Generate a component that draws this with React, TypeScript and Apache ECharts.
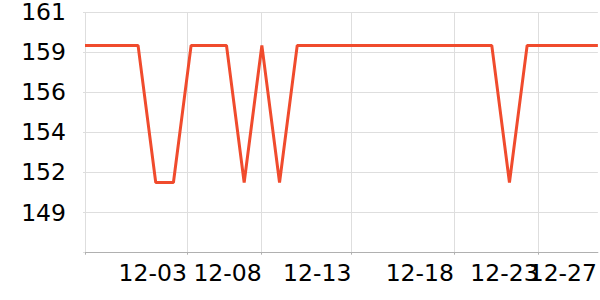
import React, { useEffect, useRef } from "react";
import * as echarts from "echarts";

// x positions are day indices of the series (0..29)
const dayIndex: number[] = Array.from({ length: 30 }, (_, i) => i);
const values: number[] = [
  159.2, 159.2, 159.2, 159.2, 151.0, 151.0, 159.2, 159.2, 159.2, 151.0,
  159.2, 151.0, 159.2, 159.2, 159.2, 159.2, 159.2, 159.2, 159.2, 159.2,
  159.2, 159.2, 159.2, 159.2, 151.0, 159.2, 159.2, 159.2, 159.2, 159.2,
];
const xTickValues: number[] = [0, 5.76, 9.99, 15.06, 20.86, 25.65];
const xLabelValues: number[] = [5.76, 9.99, 15.06, 20.86, 25.65];
const xLabelTexts: string[] = ["12-03", "12-08", "12-13", "12-18", "12-23"];
const xLastLabelValues: number[] = [28.95];
const xLastLabelTexts: string[] = ["12-27"];
const yTickValues: number[] = [146.8, 149.2, 151.6, 154.0, 156.4, 158.8, 161.2];
const yLabelValues: number[] = [149.2, 151.6, 154.0, 156.4, 158.8, 161.2];

const labelStyle = {
  fontSize: 23.5,
  fontFamily: "DejaVu Sans",
  color: "#000",
};

export default function App() {
  const ref = useRef<HTMLDivElement>(null);
  useEffect(() => {
    document.body.style.margin = "0";
    const chart = echarts.init(ref.current!, undefined, { renderer: "svg" });
    const pick = (vals: number[], texts: string[]) => (v: number) => {
      const i = vals.findIndex((x) => Math.abs(x - v) < 1e-6);
      return i >= 0 ? texts[i] : "";
    };
    chart.setOption({
      animation: false,
      grid: { left: 85, right: 0, top: 10.3, bottom: 47.3, containLabel: false },
      xAxis: [
        {
          type: "value",
          min: 0,
          max: 29,
          axisLine: { show: true, lineStyle: { color: "#b0b0b0", width: 1 } },
          axisTick: { show: true, length: 2, customValues: xTickValues, lineStyle: { color: "#b0b0b0" } },
          splitLine: { show: true, lineStyle: { color: "#dedede", width: 1 } },
          axisLabel: {
            ...labelStyle,
            customValues: xLabelValues,
            align: "right",
            margin: 8,
            hideOverlap: false,
            formatter: pick(xLabelValues, xLabelTexts),
          },
        },
        {
          type: "value",
          position: "bottom",
          min: 0,
          max: 29,
          axisLine: { show: false },
          axisTick: { show: false },
          splitLine: { show: false },
          axisLabel: {
            ...labelStyle,
            customValues: xLastLabelValues,
            align: "right",
            margin: 8,
            formatter: pick(xLastLabelValues, xLastLabelTexts),
          },
        },
      ],
      yAxis: {
        type: "value",
        min: yTickValues[0],
        max: yTickValues[yTickValues.length - 1],
        axisLine: { show: false },
        axisTick: { show: true, length: 2, customValues: yTickValues, lineStyle: { color: "#dedede" } },
        splitLine: { show: true, lineStyle: { color: "#dedede", width: 1 } },
        axisLabel: {
          ...labelStyle,
          customValues: yLabelValues,
          margin: 19,
          hideOverlap: false,
          formatter: (v: number) => String(Math.round(v)),
        },
      },
      series: [
        {
          type: "line",
          xAxisIndex: 0,
          data: dayIndex.map((d, i) => [d, values[i]]),
          showSymbol: false,
          symbol: "none",
          lineStyle: { color: "#f04b2d", width: 3 },
          itemStyle: { color: "#f04b2d" },
        },
      ],
    });
    return () => chart.dispose();
  }, []);
  return <div ref={ref} style={{ width: 600, height: 300 }} />;
}
